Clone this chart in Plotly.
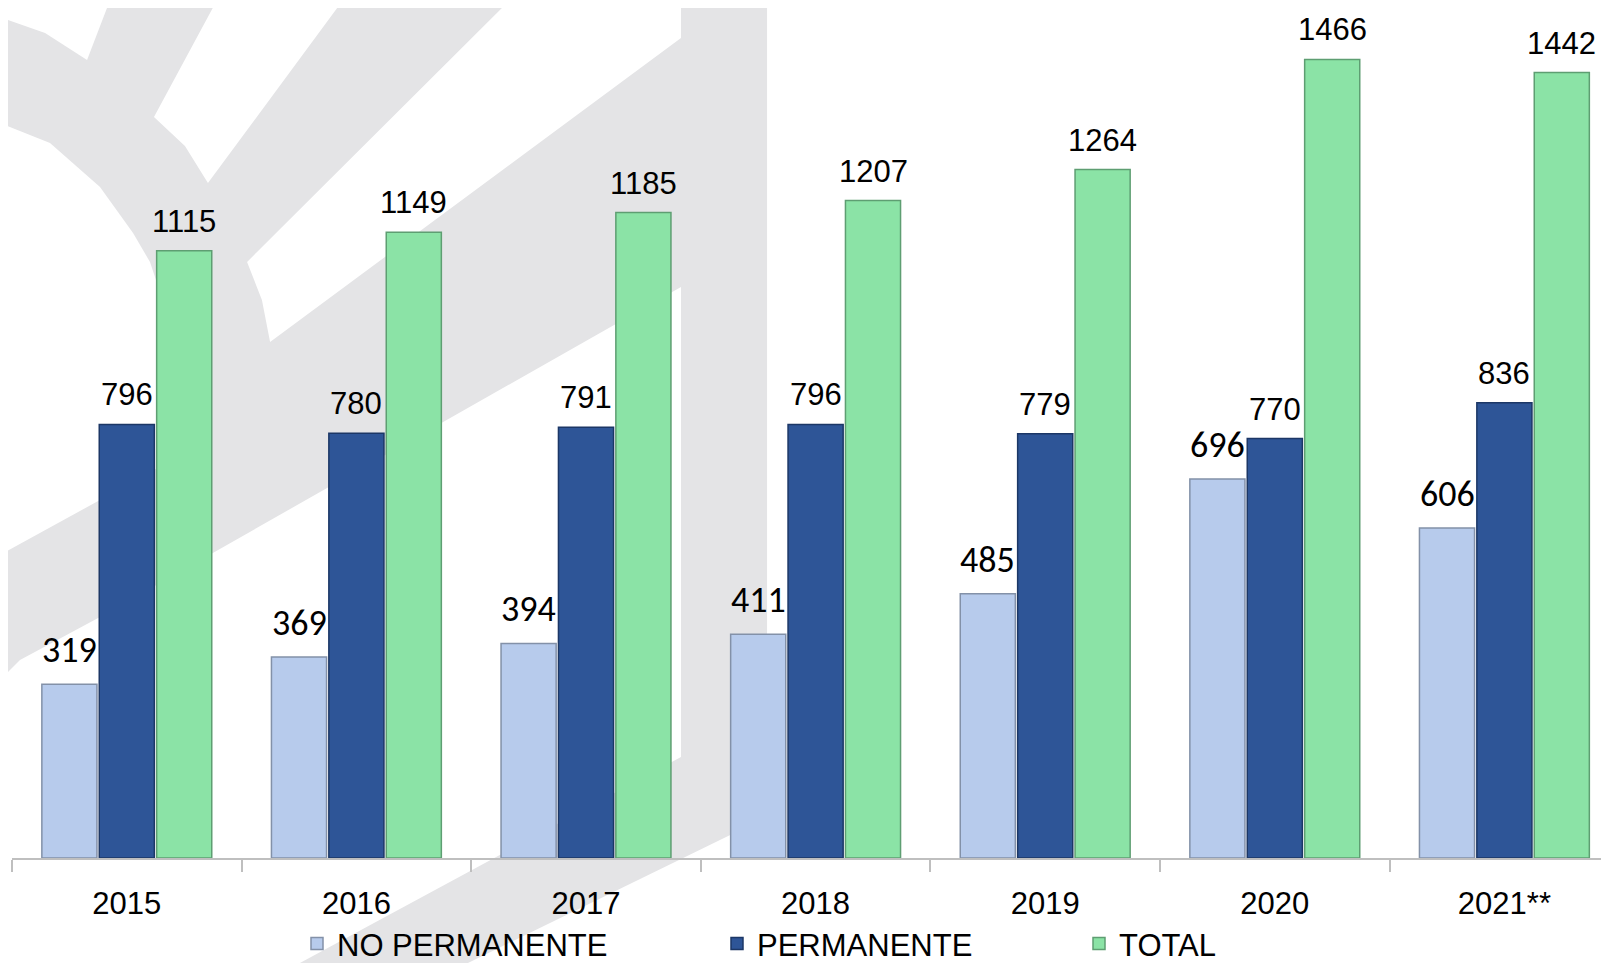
import plotly.graph_objects as go

years = ["2015", "2016", "2017", "2018", "2019", "2020", "2021**"]
no_permanente = [319, 369, 394, 411, 485, 696, 606]
permanente = [796, 780, 791, 796, 779, 770, 836]
total = [1115, 1149, 1185, 1207, 1264, 1466, 1442]

# the page body adds an 8px margin, so the figure is drawn 8px in
OFF = 8
W, H = 1609 - OFF, 963 - OFF
ML = 12 - OFF
PH = 858 - OFF
MB = H - PH
PW = W - ML
BARGAP = 0.25
CAT_PX = 229.6
PX_PER_UNIT = 0.5447

NARROW = "Liberation Sans Narrow, Liberation Sans, Arial, sans-serif"
CALIBRI = "Carlito, Lato, sans-serif"
GREY_WM = "#E4E4E6"


def px_path(points):
    # page pixels -> paper coords for the background watermark
    pts = [((x - OFF - ML) / PW, (PH - (y - OFF)) / PH) for x, y in points]
    return "M " + " L ".join(f"{x:.4f},{y:.4f}" for x, y in pts) + " Z"


def legend_x(page_x):
    return (page_x - OFF - ML) / PW


watermark_grey = [(0, 0), (767, 0), (767, 817), (468, 963), (0, 963)]
watermark_white = [
    [(8, 0), (8, 20), (45, 33), (87, 60), (110, 0)],
    [(217, 0), (343, 0), (208, 183), (185, 146), (154, 117)],
    [(247, 262), (510, 0), (681, 0), (681, 38), (270, 342), (262, 300)],
    [(0, 123), (50, 143), (100, 187), (133, 233), (150, 262), (157, 283),
     (161, 330), (163, 465), (100, 500), (0, 555)],
    [(0, 680), (20, 660), (100, 617), (681, 287), (681, 757), (300, 963), (0, 963)],
]

shapes = [dict(type="path", path=px_path(watermark_grey), xref="paper", yref="paper",
               fillcolor=GREY_WM, line=dict(width=0), layer="below")]
for poly in watermark_white:
    shapes.append(dict(type="path", path=px_path(poly), xref="paper", yref="paper",
                       fillcolor="white", line=dict(width=0), layer="below"))

series = [
    ("NO PERMANENTE", no_permanente, "#B7CBEC", "#8391A8", CALIBRI, 36, "legend"),
    ("PERMANENTE", permanente, "#2E5597", "#1C3766", NARROW, 31, "legend2"),
    ("TOTAL", total, "#8BE3A6", "#5E9E72", NARROW, 31, "legend3"),
]

fig = go.Figure()
for name, vals, color, edge, _, _, leg in series:
    fig.add_trace(
        go.Bar(
            x=years,
            y=vals,
            name=name,
            marker=dict(color=color, line=dict(color=edge, width=1.5)),
            legend=leg,
        )
    )

slot = CAT_PX * (1 - BARGAP) / 3
annotations = []
for i, (name, vals, _, _, fam, size, _) in enumerate(series):
    for k, v in enumerate(vals):
        annotations.append(
            dict(
                x=k, y=v, text=str(v), showarrow=False,
                xanchor="center", yanchor="bottom",
                xshift=(i - 1) * slot, yshift=10,
                font=dict(family=fam, size=size, color="black"),
            )
        )

leg_font = dict(family=NARROW, size=31, color="black")
leg_common = dict(orientation="h", yanchor="middle", y=-0.101, xanchor="left",
                  font=leg_font, bgcolor="rgba(0,0,0,0)")

fig.update_layout(
    width=W,
    height=H,
    margin=dict(l=ML, r=0, t=0, b=MB, autoexpand=False),
    paper_bgcolor="white",
    plot_bgcolor="rgba(0,0,0,0)",
    barmode="group",
    bargap=BARGAP,
    bargroupgap=0.04,
    shapes=shapes,
    annotations=annotations,
    showlegend=True,
    legend=dict(x=legend_x(297), **leg_common),
    legend2=dict(x=legend_x(717), **leg_common),
    legend3=dict(x=legend_x(1079), **leg_common),
    xaxis=dict(
        type="category",
        range=[-0.5, -0.5 + PW / CAT_PX],
        showline=True, linecolor="#BFBFBF", linewidth=2,
        ticks="outside", tickson="boundaries", ticklen=12, tickcolor="#BFBFBF",
        tickwidth=1.5, ticklabelstandoff=17,
        tickfont=dict(family=NARROW, size=31, color="black"),
        showgrid=False,
    ),
    yaxis=dict(range=[0, PH / PX_PER_UNIT], visible=False, showgrid=False),
)

fig.write_html("out.html")
